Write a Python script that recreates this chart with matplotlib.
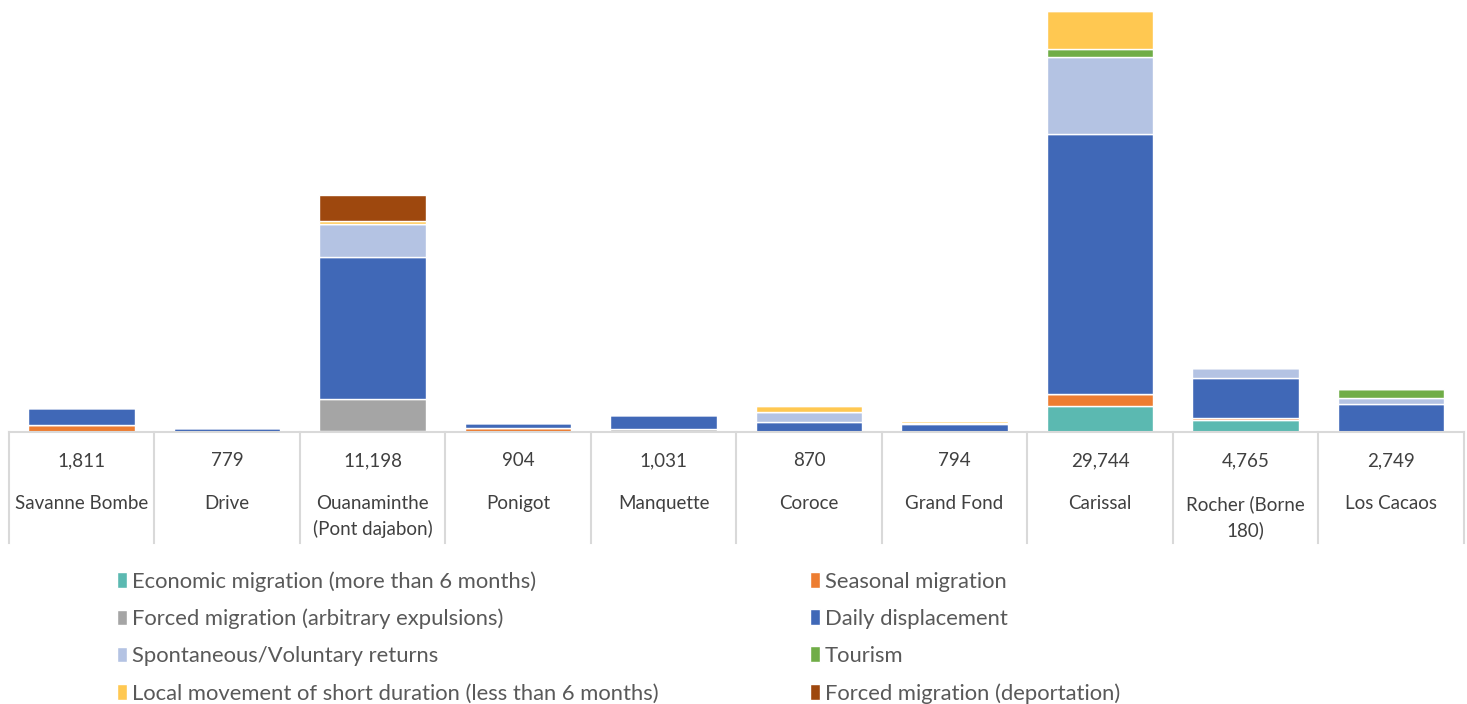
import matplotlib.pyplot as plt
import numpy as np

categories = ['Savanne Bombe', 'Drive', 'Ouanaminthe\n(Pont dajabon)', 'Ponigot', 'Manquette',
              'Coroce', 'Grand Fond', 'Carissal', 'Rocher (Borne\n180)', 'Los Cacaos']
table_values = ['1,811', '779', '11,198', '904', '1,031', '870', '794', '29,744', '4,765', '2,749']

economic = [0, 0, 100, 0, 60, 0, 0, 1870, 860, 0]
seasonal = [500, 0, 0, 250, 0, 0, 0, 850, 140, 0]
forced_arbitrary = [0, 0, 2250, 0, 170, 0, 0, 0, 0, 0]
daily = [1180, 250, 10025, 420, 940, 690, 560, 18350, 2800, 2000]
spontaneous = [30, 0, 2350, 0, 0, 720, 80, 5390, 700, 390]
tourism = [0, 0, 0, 0, 0, 0, 0, 600, 0, 650]
local_short = [0, 0, 190, 0, 0, 445, 150, 2685, 0, 0]
deportation = [0, 0, 1820, 0, 0, 0, 0, 0, 0, 0]

series_names = ['Economic migration (more than 6 months)', 'Seasonal migration',
                'Forced migration (arbitrary expulsions)', 'Daily displacement',
                'Spontaneous/Voluntary returns', 'Tourism',
                'Local movement of short duration (less than 6 months)',
                'Forced migration (deportation)']
series = [economic, seasonal, forced_arbitrary, daily, spontaneous, tourism, local_short, deportation]
colors = ['#5BB9B1', '#ED7D31', '#A5A5A5', '#4068B7', '#B4C3E3', '#70AD47', '#FFC851', '#9E480E']

plt.rcParams['font.family'] = ['Lato', 'DejaVu Sans']

W, H = 1467, 704
fig = plt.figure(figsize=(W / 100, H / 100), dpi=100)
left_px, right_px, top_px, base_px = 8.75, 1463.75, 11, 432
ax = fig.add_axes([left_px / W, 1 - base_px / H, (right_px - left_px) / W, (base_px - top_px) / H])

x = np.arange(len(categories))
bottom = np.zeros(len(categories))
handles = []
for name, vals, c in zip(series_names, series, colors):
    vals = np.array(vals, dtype=float)
    b = ax.bar(x, vals, bottom=bottom, width=0.73, color=c, edgecolor='white', linewidth=1.0, label=name)
    handles.append(b)
    bottom += vals

ax.set_xlim(-0.5, len(categories) - 0.5)
ax.set_ylim(0, bottom.max())
ax.axis('off')

# data table under the bars
px = 1.0 / (base_px - top_px)
line_col = '#D9D9D9'
trans = ax.get_xaxis_transform()
ax.plot([-0.5, len(categories) - 0.5], [0, 0], color=line_col, lw=1.5, transform=trans, clip_on=False)
for i in range(len(categories) + 1):
    ax.plot([i - 0.5, i - 0.5], [0, -(543 - base_px) * px], color=line_col, lw=1.5,
            transform=trans, clip_on=False)
for i, (cat, v) in enumerate(zip(categories, table_values)):
    ax.text(i, -(461 - base_px) * px, v, transform=trans, ha='center', va='center',
            fontsize=13.5, color='#404040')
    ax.text(i, -(495 - base_px) * px, cat, transform=trans, ha='center', va='top',
            fontsize=13.5, color='#404040', linespacing=1.55)

order = [0, 2, 4, 6, 1, 3, 5, 7]
fig.legend([handles[k] for k in order], [series_names[k] for k in order], ncol=2,
           loc='upper left', bbox_to_anchor=(117 / W, 1 - 571 / H), frameon=False,
           borderpad=0, borderaxespad=0,
           fontsize=15.8, labelcolor='#595959', handlelength=0.45, handleheight=0.7,
           handletextpad=0.25, columnspacing=6.87, labelspacing=0.78)

fig.savefig('out.png', dpi=100)
